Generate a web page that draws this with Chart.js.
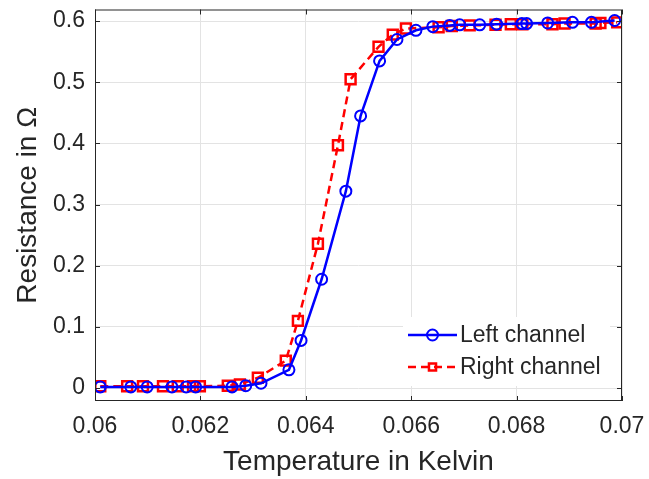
<!DOCTYPE html>
<html>
<head>
<meta charset="utf-8">
<script src="https://cdn.jsdelivr.net/npm/chart.js@4/dist/chart.umd.min.js"></script>
<style>
  html, body { margin: 0; padding: 0; background: #fff; }
  #wrap { width: 649px; height: 479px; }
</style>
</head>
<body>
<div id="wrap"><canvas id="line-chart" width="649" height="479"></canvas></div>
<script>
// values
const leftTemp = [0.0601, 0.06068, 0.06099, 0.06146, 0.06173, 0.06191, 0.0626, 0.06286, 0.06315, 0.06368,
  0.06391, 0.0643, 0.06476, 0.06504, 0.0654, 0.06573, 0.06609, 0.06641, 0.06673, 0.06692,
  0.0673, 0.06762, 0.0681, 0.06819, 0.06859, 0.06906, 0.06942, 0.06986];
const leftRes = [0.002, 0.002, 0.002, 0.002, 0.002, 0.002, 0.002, 0.004, 0.008, 0.03,
  0.078, 0.178, 0.322, 0.445, 0.535, 0.57, 0.585, 0.591, 0.593, 0.594,
  0.594, 0.595, 0.596, 0.596, 0.597, 0.598, 0.598, 0.601];

const rightTemp = [0.0601, 0.06061, 0.06091, 0.06129, 0.06157, 0.06186, 0.06199, 0.06252, 0.06275, 0.06309,
  0.06362, 0.06385, 0.06423, 0.06461, 0.06485, 0.06538, 0.06565, 0.0659, 0.06652, 0.06677,
  0.06711, 0.0676, 0.06789, 0.06811, 0.06868, 0.06891, 0.0695, 0.06959, 0.06991];
const rightRes = [0.003, 0.003, 0.003, 0.003, 0.003, 0.003, 0.003, 0.004, 0.006, 0.017,
  0.045, 0.110, 0.236, 0.397, 0.505, 0.558, 0.578, 0.588, 0.590, 0.592,
  0.593, 0.594, 0.595, 0.595, 0.595, 0.596, 0.596, 0.597, 0.598];

const xTicks = [0.06, 0.062, 0.064, 0.066, 0.068, 0.07];
const yTicks = [0, 0.1, 0.2, 0.3, 0.4, 0.5, 0.6];
const seriesNames = ["Left channel", "Right channel"];

const axisColor = '#262626';
const gridColor = '#e3e3e3';
const fontFam = '"Liberation Sans", Arial, sans-serif';

function toPoints(xs, ys) {
    var pts = [];
    for (var i = 0; i < xs.length; i++) {
        pts.push({x: xs[i], y: ys[i]});
    }
    return pts;
}

// box around the plot + inward ticks like the original
const boxPlugin = {
    id: 'box',
    afterDatasetsDraw(chart) {
        const ctx = chart.ctx;
        const a = chart.chartArea;
        const xs = chart.scales.x, ys = chart.scales.y;
        ctx.save();
        ctx.strokeStyle = axisColor;
        ctx.lineWidth = 1;
        ctx.strokeRect(a.left + 0.5, a.top + 0.5, a.right - a.left - 1, a.bottom - a.top - 1);
        ctx.beginPath();
        xTicks.forEach(function (v) {
            const px = Math.round(xs.getPixelForValue(v)) + 0.5;
            ctx.moveTo(px, a.bottom); ctx.lineTo(px, a.bottom - 5);
            ctx.moveTo(px, a.top); ctx.lineTo(px, a.top + 5);
        });
        yTicks.forEach(function (v) {
            const py = Math.round(ys.getPixelForValue(v)) + 0.5;
            ctx.moveTo(a.left, py); ctx.lineTo(a.left + 5, py);
            ctx.moveTo(a.right, py); ctx.lineTo(a.right - 5, py);
        });
        ctx.stroke();
        ctx.restore();
    },
    afterDraw(chart) {
        // legend in the lower right corner of the plot
        const ctx = chart.ctx;
        const a = chart.chartArea;
        const bx = a.right - 219, by = a.bottom - 84, bw = 207, bh = 69;
        ctx.save();
        ctx.fillStyle = '#fff';
        ctx.fillRect(bx, by, bw, bh);
        chart.data.datasets.forEach(function (ds, i) {
            const y = by + 18 + i * 32;
            const x0 = bx + 5, x1 = bx + 54;
            ctx.strokeStyle = ds.borderColor;
            ctx.lineWidth = ds.borderWidth;
            ctx.setLineDash(ds.borderDash || []);
            ctx.beginPath();
            ctx.moveTo(x0, y); ctx.lineTo(x1, y);
            ctx.stroke();
            ctx.setLineDash([]);
            ctx.fillStyle = 'rgba(0,0,0,0)';
            ctx.lineWidth = ds.pointBorderWidth;
            Chart.helpers.drawPoint(ctx, {
                pointStyle: ds.pointStyle,
                radius: i == 0 ? ds.pointRadius : 5,
                borderWidth: ds.pointBorderWidth
            }, (x0 + x1) / 2, y);
            ctx.fillStyle = axisColor;
            ctx.font = '23px ' + fontFam;
            ctx.textBaseline = 'middle';
            ctx.fillText(ds.label, x1 + 3, y + 1);
        });
        ctx.restore();
    }
};

const chartData = {
    datasets: [{
        label: seriesNames[0],
        data: toPoints(leftTemp, leftRes),
        borderColor: '#0000ff',
        backgroundColor: 'rgba(0,0,0,0)',
        borderWidth: 2.5,
        pointStyle: 'circle',
        pointRadius: 5.5,
        pointBorderWidth: 2,
        pointBorderColor: '#0000ff',
        pointBackgroundColor: 'rgba(0,0,0,0)',
        tension: 0
    }, {
        label: seriesNames[1],
        data: toPoints(rightTemp, rightRes),
        borderColor: '#ff0000',
        backgroundColor: 'rgba(0,0,0,0)',
        borderWidth: 2.5,
        borderDash: [8, 5],
        pointStyle: 'rect',
        pointRadius: 7,
        pointBorderWidth: 2.5,
        pointBorderColor: '#ff0000',
        pointBackgroundColor: 'rgba(0,0,0,0)',
        tension: 0
    }]
};

const config = {
    type: 'line',
    data: chartData,
    plugins: [boxPlugin],
    options: {
        responsive: false,
        animation: false,
        layout: { padding: { top: 9, right: 27, left: 0, bottom: 0 } },
        plugins: { legend: { display: false }, tooltip: { enabled: false } },
        scales: {
            x: {
                type: 'linear',
                min: 0.06, max: 0.07,
                afterBuildTicks: function (s) { s.ticks = xTicks.map(function (v) { return {value: v}; }); },
                afterFit: function (s) { s.height = 78; s.paddingLeft = 0; s.paddingRight = 0; },
                grid: { color: gridColor, drawTicks: false },
                border: { display: false },
                ticks: {
                    color: axisColor, padding: 12,
                    font: { family: fontFam, size: 23 },
                    maxRotation: 0, autoSkip: false,
                    callback: function (v) { return String(+v.toFixed(3)); }
                },
                title: {
                    display: true, text: 'Temperature in Kelvin', color: axisColor,
                    font: { family: fontFam, size: 28 }, padding: { top: 0, bottom: 0 }
                }
            },
            y: {
                type: 'linear',
                min: -0.021, max: 0.619,
                afterBuildTicks: function (s) { s.ticks = yTicks.map(function (v) { return {value: v}; }); },
                afterFit: function (s) { s.width = 95; s.paddingTop = 0; s.paddingBottom = 0; },
                grid: { color: gridColor, drawTicks: false },
                border: { display: false },
                ticks: {
                    color: axisColor, padding: 10,
                    font: { family: fontFam, size: 23 },
                    autoSkip: false,
                    callback: function (v) { return String(+v.toFixed(1)); }
                },
                title: {
                    display: true, text: 'Resistance in Ω', color: axisColor,
                    font: { family: fontFam, size: 28 }, padding: { top: 11, bottom: 0 }
                }
            }
        }
    }
};

const lineChart = new Chart(document.getElementById('line-chart'), config);
</script>
</body>
</html>
